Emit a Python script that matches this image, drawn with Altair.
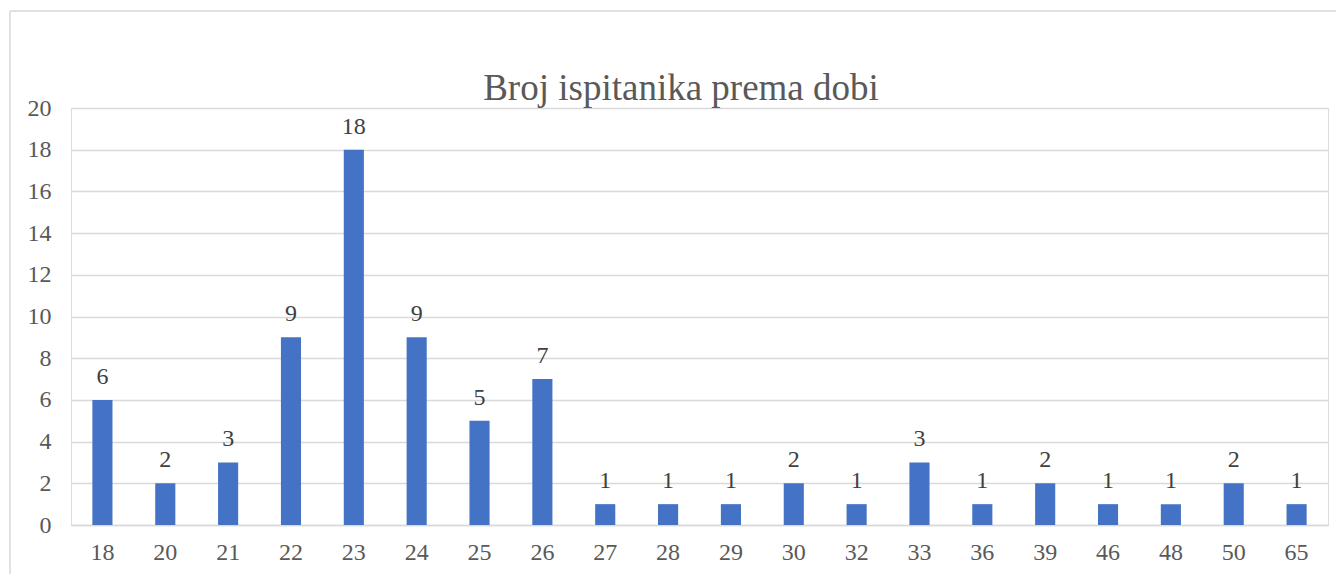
import altair as alt
import pandas as pd

ages = ["18", "20", "21", "22", "23", "24", "25", "26", "27", "28", "29", "30", "32", "33", "36", "39", "46", "48", "50", "65"]
counts = [6, 2, 3, 9, 18, 9, 5, 7, 1, 1, 1, 2, 1, 3, 1, 2, 1, 1, 2, 1]
title_text = "Broj ispitanika prema dobi"

df = pd.DataFrame({"age": ages, "count": counts})

W, H = 1257, 417
FONT = "Liberation Serif"

x_enc = alt.X("age:N", sort=ages, title=None,
              scale=alt.Scale(paddingInner=0.68, paddingOuter=0.34),
              axis=alt.Axis(labelAngle=0, labelFont=FONT, labelFontSize=24, labelColor="#595959",
                            ticks=False, domain=True, domainColor="#D9D9D9", domainWidth=1.5,
                            labelPadding=15, grid=False))
y_enc = alt.Y("count:Q", title=None,
              scale=alt.Scale(domain=[0, 20], nice=False),
              axis=alt.Axis(values=list(range(0, 21, 2)), labelFont=FONT, labelFontSize=24,
                            labelColor="#595959", ticks=False, domain=False, labelPadding=20,
                            gridColor="#D9D9D9", gridWidth=1.5))

base = alt.Chart(df)
bars = base.mark_bar(color="#4472C4").encode(x=x_enc, y=y_enc)
labels = base.mark_text(font=FONT, fontSize=24, color="#404040", baseline="alphabetic", dy=-16).encode(
    x=alt.X("age:N", sort=ages), y="count:Q", text="count:Q")

frame_top = alt.Chart(pd.DataFrame({"a": [0]})).mark_rule(color="#D9D9D9", strokeWidth=1.5).encode(
    x=alt.value(-61), x2=alt.value(W + 100), y=alt.value(-97))
frame_left = alt.Chart(pd.DataFrame({"a": [0]})).mark_rule(color="#D9D9D9", strokeWidth=1.5).encode(
    x=alt.value(-61), y=alt.value(-97), y2=alt.value(H + 100))

title_layer = alt.Chart(pd.DataFrame({"t": [title_text]})).mark_text(
    font=FONT, fontSize=37, color="#595959", baseline="alphabetic", align="center").encode(
    x=alt.value(610), y=alt.value(-8), text="t:N")

chart = alt.layer(frame_top, frame_left, bars, labels, title_layer).properties(
    width=W, height=H,
    autosize=alt.AutoSizeParams(type="none"),
    padding={"left": 63, "top": 100, "right": 8, "bottom": 60},
).configure_view(stroke=None).configure(background="white")

chart.save("out.html", embed_options={"renderer": "svg", "actions": False})
